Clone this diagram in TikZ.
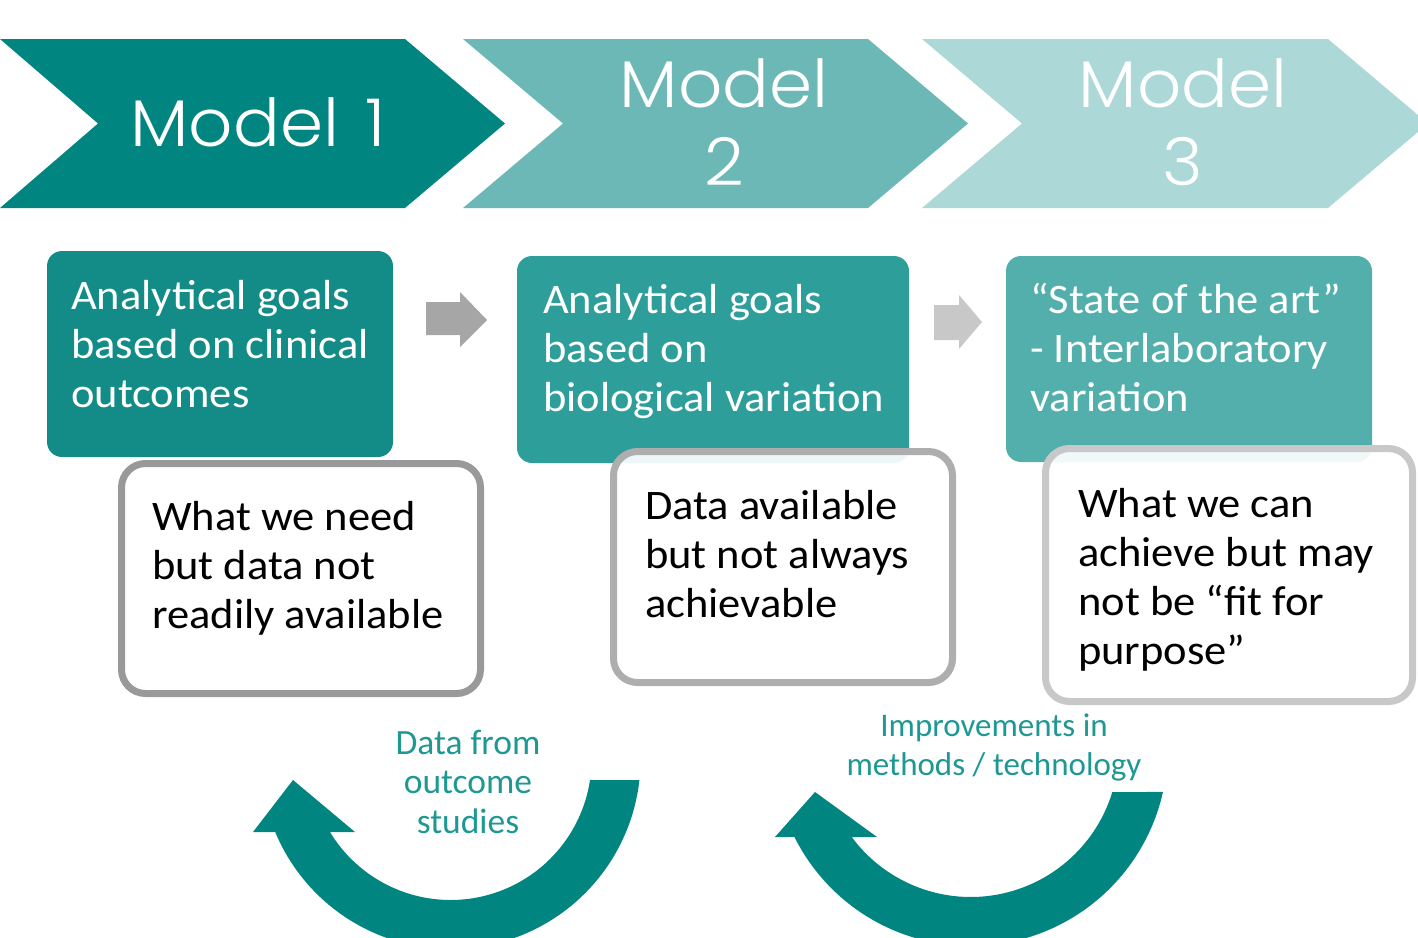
\documentclass[tikz,border=0pt]{standalone}
\usepackage{fontspec}
\setmainfont{Carlito}
\newfontfamily\boxfont{Carlito}[FakeStretch=1.06]
\newfontfamily\chevfont{Poppins Light}[FakeStretch=1.05]
\definecolor{chevA}{HTML}{008580}
\definecolor{chevB}{HTML}{6BB8B6}
\definecolor{chevC}{HTML}{ACD8D7}
\definecolor{goalA}{HTML}{138C87}
\definecolor{goalB}{HTML}{2E9E9A}
\definecolor{goalC}{HTML}{53AFAB}
\definecolor{loopcol}{HTML}{008580}
\definecolor{labelcol}{HTML}{1E9893}
\definecolor{greyA}{HTML}{A6A6A6}
\definecolor{greyB}{HTML}{C8C8C8}
\definecolor{edgeA}{HTML}{999999}
\definecolor{edgeB}{HTML}{AEAEAE}
\definecolor{edgeC}{HTML}{C8C8C8}
\begin{document}
\begin{tikzpicture}[x=1pt,y=-1pt,
  chevtxt/.style={inner sep=0pt, text=white, align=center,
    font=\chevfont\fontsize{66}{78}\selectfont},
  goalbox/.style={draw=none, rounded corners=15pt, inner sep=0pt},
  notebox/.style={draw, line width=7pt, fill=white, fill opacity=0.92,
    draw opacity=1, rounded corners=24pt, inner sep=0pt},
  goaltxt/.style={anchor=north west, inner sep=0pt, align=left, text=white,
    font=\boxfont\fontsize{42}{49}\selectfont},
  notetxt/.style={anchor=north west, inner sep=0pt, align=left, text=black,
    font=\boxfont\fontsize{42}{49}\selectfont},
  looptxt/.style={anchor=north, inner sep=0pt, align=center, text=labelcol}]
\useasboundingbox (0,0) rectangle (1418,937);
\clip (0,0) rectangle (1418,937);

% chevrons
\fill[chevA] (0,39) -- (405,39) -- (505,123.5) -- (405,208) -- (0,208) -- (98,123.5) -- cycle;
\fill[chevB] (463,39) -- (868,39) -- (968,123.5) -- (868,208) -- (463,208) -- (563,123.5) -- cycle;
\fill[chevC] (922,39) -- (1328,39) -- (1428,123.5) -- (1328,208) -- (922,208) -- (1022,123.5) -- cycle;
\node[chevtxt, anchor=base] (m1) at (258,146) {Model\hspace{26pt}1};
\node[chevtxt, anchor=north] (m2) at (724,52) {\rule{0pt}{55pt}Model\\2};
\node[chevtxt, anchor=north] (m3) at (1183,52) {\rule{0pt}{55pt}Model\\3};

% goal boxes
\node[goalbox, fill=goalA, minimum width=346pt, minimum height=206pt] (g1) at (220,354) {};
\node[goalbox, fill=goalB, minimum width=392pt, minimum height=207pt] (g2) at (713,359.5) {};
\node[goalbox, fill=goalC, minimum width=366pt, minimum height=206pt] (g3) at (1189,359) {};
\node[goaltxt] (g1t) at (71,275) {\rule{0pt}{34pt}Analytical goals\\based on clinical\\outcomes};
\node[goaltxt] (g2t) at (543,279) {\rule{0pt}{34pt}Analytical goals\\based on\\biological variation};
\node[goaltxt] (g3t) at (1030,279) {\rule{0pt}{34pt}“State of the art”\\- Interlaboratory\\variation};

% grey step arrows
\fill[greyA] (426,302) -- (460,302) -- (460,292) -- (487,320) -- (460,347) -- (460,335) -- (426,335) -- cycle;
\fill[greyB] (934,305) -- (959,305) -- (959,295) -- (982,322) -- (959,349) -- (959,340) -- (934,340) -- cycle;

% note boxes
\node[notebox, draw=edgeA, minimum width=359pt, minimum height=230pt] (n1) at (301,578.5) {};
\node[notebox, draw=edgeB, minimum width=339pt, minimum height=231pt] (n2) at (783,567) {};
\node[notebox, draw=edgeC, minimum width=367pt, minimum height=253pt] (n3) at (1229,575) {};
\node[notetxt] (n1t) at (152,496) {\rule{0pt}{34pt}What we need\\but data not\\readily available};
\node[notetxt] (n2t) at (645,485) {\rule{0pt}{34pt}Data available\\but not always\\achievable};
\node[notetxt] (n3t) at (1078,483) {\rule{0pt}{34pt}What we can\\achieve but may\\not be “fit for\\purpose”};

% curved feedback arrows
\fill[loopcol] plot[domain=6.36:157.4, samples=90] ({450.6+190*cos(\x)},{759+190*sin(\x)})
  -- (253,832) -- (293,780) -- (355,832)
  -- plot[domain=148.8:8.56, samples=90] ({450.6+141*cos(\x)},{759+141*sin(\x)}) -- cycle;
\fill[loopcol] plot[domain=12.6:153.5, samples=90] ({970.7+197*cos(\x)},{749+197*sin(\x)})
  -- (775,837) -- (815,792) -- (877,837)
  -- plot[domain=143.5:16.9, samples=90] ({970.7+148*cos(\x)},{749+148*sin(\x)}) -- cycle;

\node[looptxt, font=\fontsize{35.5}{39.5}\selectfont] (l1) at (468,725) {\rule{0pt}{29pt}Data from\\outcome\\studies};
\node[looptxt, font=\fontsize{33}{39.5}\selectfont] (l2) at (994,709) {\rule{0pt}{27pt}Improvements in\\methods / technology};
\end{tikzpicture}
\end{document}
